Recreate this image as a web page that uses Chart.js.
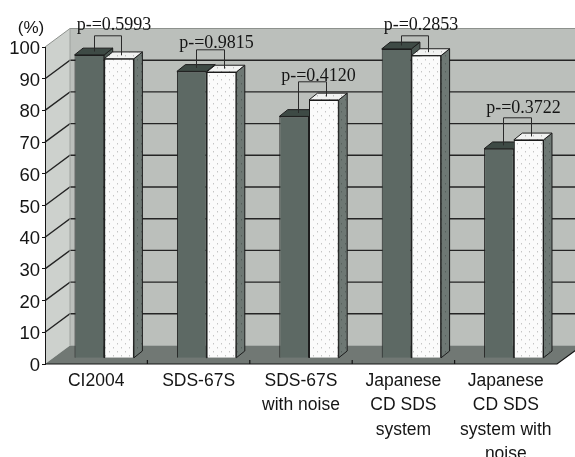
<!DOCTYPE html>
<html>
<head>
<meta charset="utf-8">
<script src="https://cdn.jsdelivr.net/npm/chart.js@4/dist/chart.umd.min.js"></script>
<style>
  html, body { margin: 0; padding: 0; background: #fff; }
  canvas { display: block; }
</style>
</head>
<body>
<canvas id="chart" width="575" height="457"></canvas>
<script>
// ---- data ----
const categories = [
  ['CI2004'],
  ['SDS-67S'],
  ['SDS-67S', 'with noise'],
  ['Japanese', 'CD SDS', 'system'],
  ['Japanese', 'CD SDS', 'system with', 'noise']
];
const seriesDark  = [95.7, 90.5, 76.3, 97.6, 66.1];
const seriesLight = [94.5, 90.3, 81.5, 95.5, 68.9];
const pValues = ['0.5993', '0.9815', '0.4120', '0.2853', '0.3722'];
const yMin = 0, yMax = 100, yStep = 10;

// ---- layout of the annotations and the pseudo-3D box ----
const bracketLevels = [102, 97.6, 87.3, 102, 76];   // height of each p-value bracket (in %)
const labelLift = [6, 2, 1, 6, 5];                   // gap between bracket and its text (px)
const WALL = { dx: 25, dy: 18.5 };                   // full depth of the plot box
const BAR_FRONT = { dx: 8, dy: 5.7 };                // bars stand a little behind the front edge
const BAR_DEPTH = { dx: 8.5, dy: 6.8 };              // depth of each bar

// dotted fill used for the light series
function dotPattern(bg, dot) {
  const c = document.createElement('canvas');
  c.width = 8; c.height = 8;
  const g = c.getContext('2d');
  g.fillStyle = bg; g.fillRect(0, 0, 8, 8);
  g.fillStyle = dot;
  g.fillRect(1, 1, 1, 1);
  g.fillRect(5, 5, 1, 1);
  return document.getElementById('chart').getContext('2d').createPattern(c, 'repeat');
}
const lightFront = dotPattern('#fbfbfb', '#adadad');
const lightTop   = dotPattern('#f1f2f1', '#a4a4a4');
const lightSide  = dotPattern('#6e7874', '#4c5652');

function poly(ctx, pts, fill, stroke) {
  ctx.beginPath();
  ctx.moveTo(pts[0][0], pts[0][1]);
  for (let i = 1; i < pts.length; i++) ctx.lineTo(pts[i][0], pts[i][1]);
  ctx.closePath();
  if (fill) { ctx.fillStyle = fill; ctx.fill(); }
  if (stroke) { ctx.strokeStyle = stroke; ctx.lineWidth = 1; ctx.stroke(); }
}

const boxPlugin = {
  id: 'box3d',
  beforeDraw(chart) {
    const { ctx, chartArea: a, scales: { y, x } } = chart;
    const W = WALL;
    ctx.save();
    // side wall
    poly(ctx, [[a.left, a.top], [a.left + W.dx, a.top - W.dy], [a.left + W.dx, a.bottom - W.dy], [a.left, a.bottom]], '#cdd1cd');
    // back wall
    ctx.fillStyle = '#bbbfbb';
    ctx.fillRect(a.left + W.dx, a.top - W.dy, a.right - a.left, a.bottom - a.top);
    // floor
    poly(ctx, [[a.left, a.bottom], [a.left + W.dx, a.bottom - W.dy], [a.right + W.dx, a.bottom - W.dy], [a.right, a.bottom]], '#717874');

    // grid lines on both walls
    y.ticks.forEach(t => {
      if (t.value === yMin) return;
      const py = y.getPixelForValue(t.value);
      ctx.beginPath();
      ctx.moveTo(a.left, py);
      ctx.lineTo(a.left + W.dx, py - W.dy);
      ctx.lineTo(a.right + W.dx, py - W.dy);
      if (t.value === yMax) { ctx.strokeStyle = '#8d918d'; ctx.lineWidth = 1; }
      else { ctx.strokeStyle = '#242424'; ctx.lineWidth = 1.4; }
      ctx.stroke();
    });
    // back-left corner edge
    ctx.strokeStyle = '#9ea29e'; ctx.lineWidth = 1;
    ctx.beginPath();
    ctx.moveTo(a.left + W.dx, a.top - W.dy);
    ctx.lineTo(a.left + W.dx, a.bottom - W.dy);
    ctx.stroke();

    // front and right edges of the floor
    ctx.strokeStyle = '#151515'; ctx.lineWidth = 1.2;
    ctx.beginPath();
    ctx.moveTo(a.left, a.bottom);
    ctx.lineTo(a.right, a.bottom);
    ctx.lineTo(a.right + W.dx, a.bottom - W.dy);
    ctx.stroke();
    // category tick marks on the floor edge
    const n = x.ticks.length;
    for (let i = 1; i < n; i++) {
      const px = (x.getPixelForTick(i - 1) + x.getPixelForTick(i)) / 2;
      ctx.beginPath();
      ctx.moveTo(px, a.bottom);
      ctx.lineTo(px, a.bottom - 4);
      ctx.stroke();
    }
    ctx.restore();
  },
  beforeDatasetsDraw(chart) {
    const { ctx } = chart;
    ctx.save();
    ctx.translate(BAR_FRONT.dx, -BAR_FRONT.dy);
    const d = BAR_DEPTH;
    const metas = [chart.getDatasetMeta(0), chart.getDatasetMeta(1)];
    const sideFill = ['#4b5752', lightSide];
    const topFill = ['#3e4a45', lightTop];
    for (let i = 0; i < categories.length; i++) {
      metas.forEach((meta, k) => {
        const el = meta.data[i];
        const p = el.getProps(['x', 'y', 'base', 'width'], true);
        const l = p.x - p.width / 2, r = p.x + p.width / 2;
        poly(ctx, [[r, p.y], [r + d.dx, p.y - d.dy], [r + d.dx, p.base - d.dy], [r, p.base]], sideFill[k], '#1c1c1c');
        poly(ctx, [[l, p.y], [l + d.dx, p.y - d.dy], [r + d.dx, p.y - d.dy], [r, p.y]], topFill[k], '#1c1c1c');
      });
    }
  },
  afterDatasetsDraw(chart) {
    const { ctx, scales: { y } } = chart;
    const d = BAR_DEPTH;
    const m0 = chart.getDatasetMeta(0), m1 = chart.getDatasetMeta(1);
    ctx.strokeStyle = '#2a2a2a';
    ctx.lineWidth = 1;
    ctx.fillStyle = '#151515';
    ctx.font = '18px "Liberation Serif", "Times New Roman", serif';
    ctx.textAlign = 'center';
    ctx.textBaseline = 'alphabetic';
    for (let i = 0; i < categories.length; i++) {
      const a = m0.data[i].getProps(['x', 'y'], true);
      const b = m1.data[i].getProps(['x', 'y'], true);
      const ax = Math.round(a.x + d.dx / 2) + 0.5, ay = a.y - d.dy / 2;
      const bx = Math.round(b.x + d.dx / 2) - 1.5, by = b.y - d.dy / 2;
      const ly = Math.round(y.getPixelForValue(bracketLevels[i])) + 0.5;
      ctx.beginPath();
      ctx.moveTo(ax, ay);
      ctx.lineTo(ax, ly);
      ctx.lineTo(bx, ly);
      ctx.lineTo(bx, by);
      ctx.stroke();
      ctx.fillText('p-=' + pValues[i], (ax + bx) / 2 + 6, ly - labelLift[i]);
    }
    ctx.restore();
  },
  afterDraw(chart) {
    const { ctx } = chart;
    ctx.save();
    ctx.fillStyle = '#151515';
    ctx.font = '17px "Liberation Sans", Arial, sans-serif';
    ctx.textAlign = 'center';
    ctx.textBaseline = 'alphabetic';
    ctx.fillText('(%)', 31, 33);
    ctx.restore();
  }
};

new Chart(document.getElementById('chart'), {
  type: 'bar',
  data: {
    labels: categories,
    datasets: [
      { data: seriesDark,  backgroundColor: '#5d6964', borderColor: '#1c1c1c', borderWidth: 1 },
      { data: seriesLight, backgroundColor: lightFront, borderColor: '#1c1c1c', borderWidth: 1 }
    ]
  },
  options: {
    responsive: false,
    devicePixelRatio: 1,
    animation: false,
    events: [],
    layout: { padding: { left: 0, right: 18, top: 47, bottom: 0 } },
    datasets: { bar: { barPercentage: 1, categoryPercentage: 0.58 } },
    plugins: { legend: { display: false }, tooltip: { enabled: false } },
    scales: {
      x: {
        grid: { display: false, drawTicks: false },
        border: { display: false },
        ticks: {
          autoSkip: false, maxRotation: 0, padding: 5, color: '#151515',
          font: { family: '"Liberation Sans", Arial, sans-serif', size: 17.5, lineHeight: 1.39 }
        },
        afterFit(s) { s.height = 93; }
      },
      y: {
        min: yMin, max: yMax,
        grid: { drawOnChartArea: false, drawTicks: true, tickLength: 3, color: '#151515' },
        border: { display: true, color: '#151515', width: 1 },
        ticks: {
          stepSize: yStep, padding: 2, labelOffset: 2, color: '#151515',
          font: { family: '"Liberation Sans", Arial, sans-serif', size: 18.5 }
        },
        afterFit(s) { s.width = 45; }
      }
    }
  },
  plugins: [boxPlugin]
});
</script>
</body>
</html>
